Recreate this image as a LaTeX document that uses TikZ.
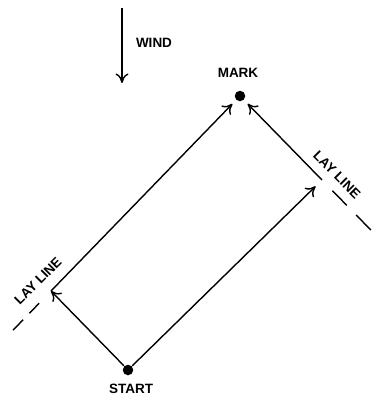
\documentclass[tikz,border=0pt]{standalone}
\usepackage{fontspec}
\setmainfont{Liberation Sans}
\usetikzlibrary{arrows.meta,calc}
\begin{document}
\begin{tikzpicture}[x=1pt,y=-1pt, line width=1.4pt,
 arr/.style={-{To[length=9.5pt,width=13pt]}},
 lbl/.style={font=\fontsize{13.5}{14}\bfseries\selectfont, inner sep=0pt},
 dot/.style={circle,fill,inner sep=0pt,minimum size=10.5pt}]
\useasboundingbox (0,0) rectangle (372,399);
\node[dot] (start) at (128,370) {};
\node[dot] (mark) at (240,96) {};
\coordinate (L) at (51,291);
\coordinate (R) at (322,180);
\coordinate (w1) at (122,8);
\coordinate (w2) at (122,83);
% paths
\draw[arr] (start) -- (L);
\draw[arr, shorten >=5pt] (L) -- (mark);
\draw[arr, shorten >=9pt] (start) -- (R);
\draw[arr, shorten >=5pt] (R) -- (mark);
\draw[arr] (w1) -- (w2);
% lay line dashes
\draw ($(L)!-17pt!(mark)$) -- ($(L)!-31pt!(mark)$);
\draw ($(L)!-40pt!(mark)$) -- ($(L)!-54.5pt!(mark)$);
\draw ($(R)!-15pt!(mark)$) -- ($(R)!-35.4pt!(mark)$);
\draw ($(R)!-48.8pt!(mark)$) -- ($(R)!-70pt!(mark)$);
% labels
\node[lbl] (wind) at (154,43) {WIND};
\node[lbl] (marklbl) at (238,73) {MARK};
\node[lbl] (startlbl) at (131,389) {START};
\node[lbl, rotate=45] (lay1) at (38,281) {LAY LINE};
\node[lbl, rotate=-45] (lay2) at (337,175) {LAY LINE};
\end{tikzpicture}
\end{document}
